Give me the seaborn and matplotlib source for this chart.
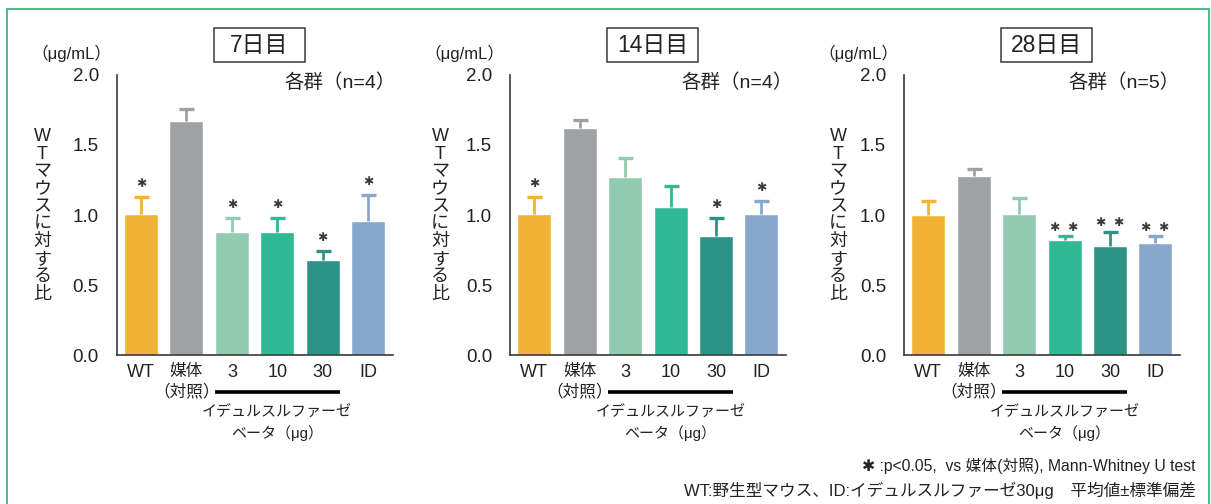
import matplotlib
matplotlib.use("Agg")
import matplotlib.pyplot as plt
from matplotlib.patches import Rectangle
from matplotlib.transforms import blended_transform_factory
import numpy as np
import pandas as pd
import seaborn as sns

# ---- data -------------------------------------------------------------
groups = ["WT", "媒体\n（対照）", "3", "10", "30", "ID"]
bar_colors = ["#F3B335", "#A0A1A5", "#93CBB0", "#31B996", "#2E9387", "#87A8CB"]

day_titles = ["7日目", "14日目", "28日目"]
n_labels = ["各群（n=4）", "各群（n=4）", "各群（n=5）"]

day7_mean = [1.01, 1.67, 0.88, 0.88, 0.68, 0.96]
day7_sd = [0.12, 0.09, 0.10, 0.10, 0.06, 0.18]
day7_sig = ["✱", "", "✱", "✱", "✱", "✱"]

day14_mean = [1.01, 1.62, 1.27, 1.06, 0.85, 1.01]
day14_sd = [0.12, 0.06, 0.14, 0.15, 0.13, 0.09]
day14_sig = ["✱", "", "", "", "✱", "✱"]

day28_mean = [1.00, 1.28, 1.01, 0.82, 0.78, 0.80]
day28_sd = [0.10, 0.05, 0.11, 0.03, 0.10, 0.05]
day28_sig = ["", "", "", "✱  ✱", "✱  ✱", "✱  ✱"]

y_ticks = [0.0, 0.5, 1.0, 1.5, 2.0]
unit_label = "（μg/mL）"
ylabel_chars = ["W", "T", "マ", "ウ", "ス", "に", "対", "す", "る", "比"]
drug_label = ["イデュルスルファーゼ", "ベータ（μg）"]
footnotes = ["✱ :p<0.05,  vs 媒体(対照), Mann-Whitney U test",
             "WT:野生型マウス、ID:イデュルスルファーゼ30μg　平均値±標準偏差"]

# ---- style ------------------------------------------------------------
sns.set_style("white")
plt.rcParams["font.family"] = ["Liberation Sans", "Noto Sans CJK JP", "DejaVu Sans"]
TXT = "#222222"
AX = "#3a3a3a"

W, H = 1211, 504
fig = plt.figure(figsize=(W / 100, H / 100), dpi=100)

# green frame around the whole figure
fig.patches.append(Rectangle((7 / W, -0.1), (1209 - 7) / W, 1.1 - 9 / H,
                             transform=fig.transFigure, fill=False,
                             ec="#2DB36E", lw=1.2))

# (means, sds, marks, axis left px, y-title x px, n-label right px)
panels = [
    (day7_mean, day7_sd, day7_sig, 117, 42.5, 388),
    (day14_mean, day14_sd, day14_sig, 510.3, 440, 785),
    (day28_mean, day28_sd, day28_sig, 904.3, 838, 1172),
]

ax_w, ax_h = 276, 280
ax_bottom = H - 355
cap_pt = 10.8

for k, (means, sds, sigs, left_px, ylab_x, n_right) in enumerate(panels):
    ax = fig.add_axes([left_px / W, ax_bottom / H, ax_w / W, ax_h / H])
    df = pd.DataFrame({"group": groups, "value": means})
    sns.barplot(data=df, x="group", y="value", hue="group", order=groups,
                hue_order=groups, palette=bar_colors, saturation=1,
                errorbar=None, width=0.75, legend=False, ax=ax)

    # upper-only SD whiskers with a cap
    for i, (m, s, c) in enumerate(zip(means, sds, bar_colors)):
        ax.vlines(i, m, m + s, color=c, lw=2.0, zorder=3)
        ax.plot([i], [m + s], marker="_", markersize=cap_pt, mew=2.4,
                color=c, zorder=3)
        if sigs[i]:
            off = 9.8 if len(sigs[i]) == 1 else 6.4
            ax.annotate(sigs[i], xy=(i, m + s), xytext=(0, off),
                        textcoords="offset points", ha="center", va="center",
                        fontsize=8.8, color="#3a3a3a",
                        family=["DejaVu Sans"])

    ax.set_xlim(-0.53, 5.55)
    ax.set_ylim(0, 2.0)
    ax.set_yticks(y_ticks)
    ax.set_yticklabels([f"{v:.1f}" for v in y_ticks])
    ax.set_xlabel("")
    ax.set_ylabel("")
    sns.despine(ax=ax)
    for sp in ("left", "bottom"):
        ax.spines[sp].set_color(AX)
        ax.spines[sp].set_linewidth(1.2)
    ax.tick_params(axis="y", direction="out", length=8, width=1.2,
                   color=AX, labelsize=13.5, labelcolor=TXT, pad=5)
    ax.tick_params(axis="x", length=0, labelsize=13, labelcolor=TXT, pad=6.5)
    for lab in ax.get_xticklabels():
        if "\n" in lab.get_text():
            lab.set_fontsize(12)
            lab.set_linespacing(1.3)

    # dose bracket and drug name below the 3/10/30 groups
    tr = blended_transform_factory(ax.transData, ax.transAxes)
    ax.plot([2 - 0.375, 4 + 0.375], [-0.131, -0.131], color="black", lw=2.6,
            solid_capstyle="butt", transform=tr, clip_on=False)
    ax.text(3, -0.207, drug_label[0], transform=tr, ha="center", va="center",
            fontsize=10.8, color=TXT)
    ax.text(3, -0.279, drug_label[1], transform=tr, ha="center", va="center",
            fontsize=10.8, color=TXT)

    # day title in a fixed-size box
    bw, bh = 91 / ax_w, 34 / ax_h
    cx, cy = 0.515, 1.107
    ax.add_patch(Rectangle((cx - bw / 2, cy - bh / 2), bw, bh,
                           transform=ax.transAxes, fill=False, ec=AX, lw=1.1,
                           clip_on=False))
    ax.text(cx, cy, day_titles[k], transform=ax.transAxes, ha="center",
            va="center", fontsize=16.5, color=TXT)

    ax.text((n_right + 8 - left_px) / ax_w, 0.971, n_labels[k],
            transform=ax.transAxes, ha="right", va="center", fontsize=14,
            color=TXT)
    ax.text(-46 / ax_w, 1.079, unit_label, transform=ax.transAxes,
            ha="center", va="center", fontsize=12, color=TXT)

    # stacked (upright) y-axis title
    for j, ch in enumerate(ylabel_chars):
        y_px = 136.7 + j * 17.5
        fig.text(ylab_x / W, 1 - y_px / H, ch, ha="center", va="center",
                 fontsize=13, color=TXT)

fig.text(1196 / W, 1 - 466 / H, footnotes[0], ha="right", va="center",
         fontsize=11.3, color=TXT)
fig.text(1196 / W, 1 - 490 / H, footnotes[1], ha="right", va="center",
         fontsize=12, color=TXT)

fig.savefig("out.png", dpi=100)
